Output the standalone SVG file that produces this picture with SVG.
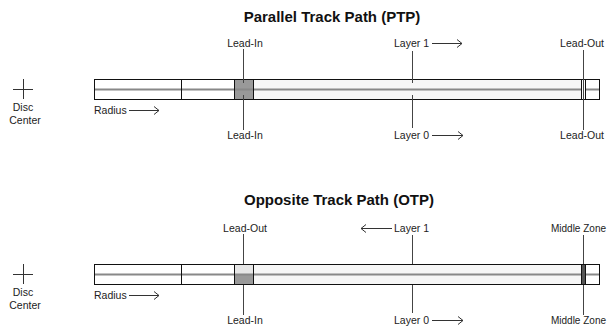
<svg xmlns="http://www.w3.org/2000/svg" width="608" height="326" viewBox="0 0 608 326">
<style>
text{font-family:"Liberation Sans",Arial,sans-serif;font-size:10.5px;fill:#222}
.t{font-size:15px;font-weight:bold;fill:#111}
.mz{font-size:10px}
.bar{fill:none;stroke:#111;stroke-width:1}
.mid{stroke:#888;stroke-width:2}
.div{stroke:#111;stroke-width:1}
.v{stroke:#444;stroke-width:1}
.ar{fill:none;stroke:#333;stroke-width:1}
</style>
<rect width="608" height="326" fill="#fff"/>
<text class="t" x="332" y="22" text-anchor="middle">Parallel Track Path (PTP)</text>
<text class="t" x="339" y="205" text-anchor="middle">Opposite Track Path (OTP)</text>

<g id="ptp-disc">
<path class="ar" d="M13 89.5H33M23.5 79V99"/>
<text x="23" y="111" text-anchor="middle">Disc</text>
<text x="25" y="124" text-anchor="middle">Center</text>
</g>
<g id="ptp-radius">
<text x="94" y="114">Radius</text>
<path class="ar" d="M129 110.5H159M154 106.5L159 110.5L154 114.5"/>
</g>
<g id="ptp-bar">
<rect x="253" y="79.5" width="328" height="20" fill="#f6f6f6"/>
<rect x="234.5" y="79.5" width="19" height="20" fill="#999"/>
<line class="mid" x1="94" y1="89.5" x2="599" y2="89.5"/>
<line class="div" x1="181.5" y1="79.5" x2="181.5" y2="99.5"/>
<line class="div" x1="234.5" y1="79.5" x2="234.5" y2="99.5"/>
<line class="div" x1="253.5" y1="79.5" x2="253.5" y2="99.5"/>
<rect x="581.5" y="79.5" width="4" height="20" fill="#fff" stroke="#111"/>
<rect class="bar" x="94.5" y="79.5" width="505" height="20"/>
</g>

<g id="connectors">
<path class="v" d="M243.5 49V83M243.5 95V130"/>
<path class="v" d="M412.5 51V83M412.5 95V128"/>
<path class="v" d="M583.5 50V130"/>
<path class="ar" d="M432 43.5H462M457 39.5L462 43.5L457 47.5"/>
<path class="ar" d="M432 135.5H463M458 131.5L463 135.5L458 139.5"/>
<path class="v" d="M243.5 234V269M243.5 280V315"/>
<path class="v" d="M412.5 235V269M412.5 280V313"/>
<path class="v" d="M583.5 235V315"/>
<path class="ar" d="M392 228.5H361M366 224.5L361 228.5L366 232.5"/>
<path class="ar" d="M432 320.5H463M458 316.5L463 320.5L458 324.5"/>
</g>

<g id="ptp-labels">
<text x="245" y="47" text-anchor="middle">Lead-In</text>
<text x="394" y="47">Layer 1</text>
<text x="582" y="47" text-anchor="middle">Lead-Out</text>
<text x="245" y="139" text-anchor="middle">Lead-In</text>
<text x="394" y="139">Layer 0</text>
<text x="582" y="139" text-anchor="middle">Lead-Out</text>
</g>

<g id="otp-disc">
<path class="ar" d="M13 274.5H33M23.5 264V284"/>
<text x="23" y="296" text-anchor="middle">Disc</text>
<text x="25" y="309" text-anchor="middle">Center</text>
</g>
<g id="otp-radius">
<text x="94" y="299">Radius</text>
<path class="ar" d="M129 295.5H159M154 291.5L159 295.5L154 299.5"/>
</g>
<g id="otp-bar">
<rect x="253" y="264.5" width="328" height="20" fill="#f6f6f6"/>
<rect x="234.5" y="264.5" width="19" height="10" fill="#e6e6e6"/>
<rect x="234.5" y="274.5" width="19" height="10" fill="#999"/>
<line class="mid" x1="94" y1="274.5" x2="599" y2="274.5"/>
<line class="div" x1="181.5" y1="264.5" x2="181.5" y2="284.5"/>
<line class="div" x1="234.5" y1="264.5" x2="234.5" y2="284.5"/>
<line class="div" x1="253.5" y1="264.5" x2="253.5" y2="284.5"/>
<rect x="581.5" y="264.5" width="4" height="20" fill="#555" stroke="#111"/>
<rect class="bar" x="94.5" y="264.5" width="505" height="20"/>
</g>

<g id="otp-labels">
<text x="245" y="232" text-anchor="middle">Lead-Out</text>
<text x="394" y="232">Layer 1</text>
<text class="mz" x="606" y="232" text-anchor="end">Middle Zone</text>
<text x="245" y="324" text-anchor="middle">Lead-In</text>
<text x="394" y="324">Layer 0</text>
<text class="mz" x="606" y="324" text-anchor="end">Middle Zone</text>
</g>
</svg>
